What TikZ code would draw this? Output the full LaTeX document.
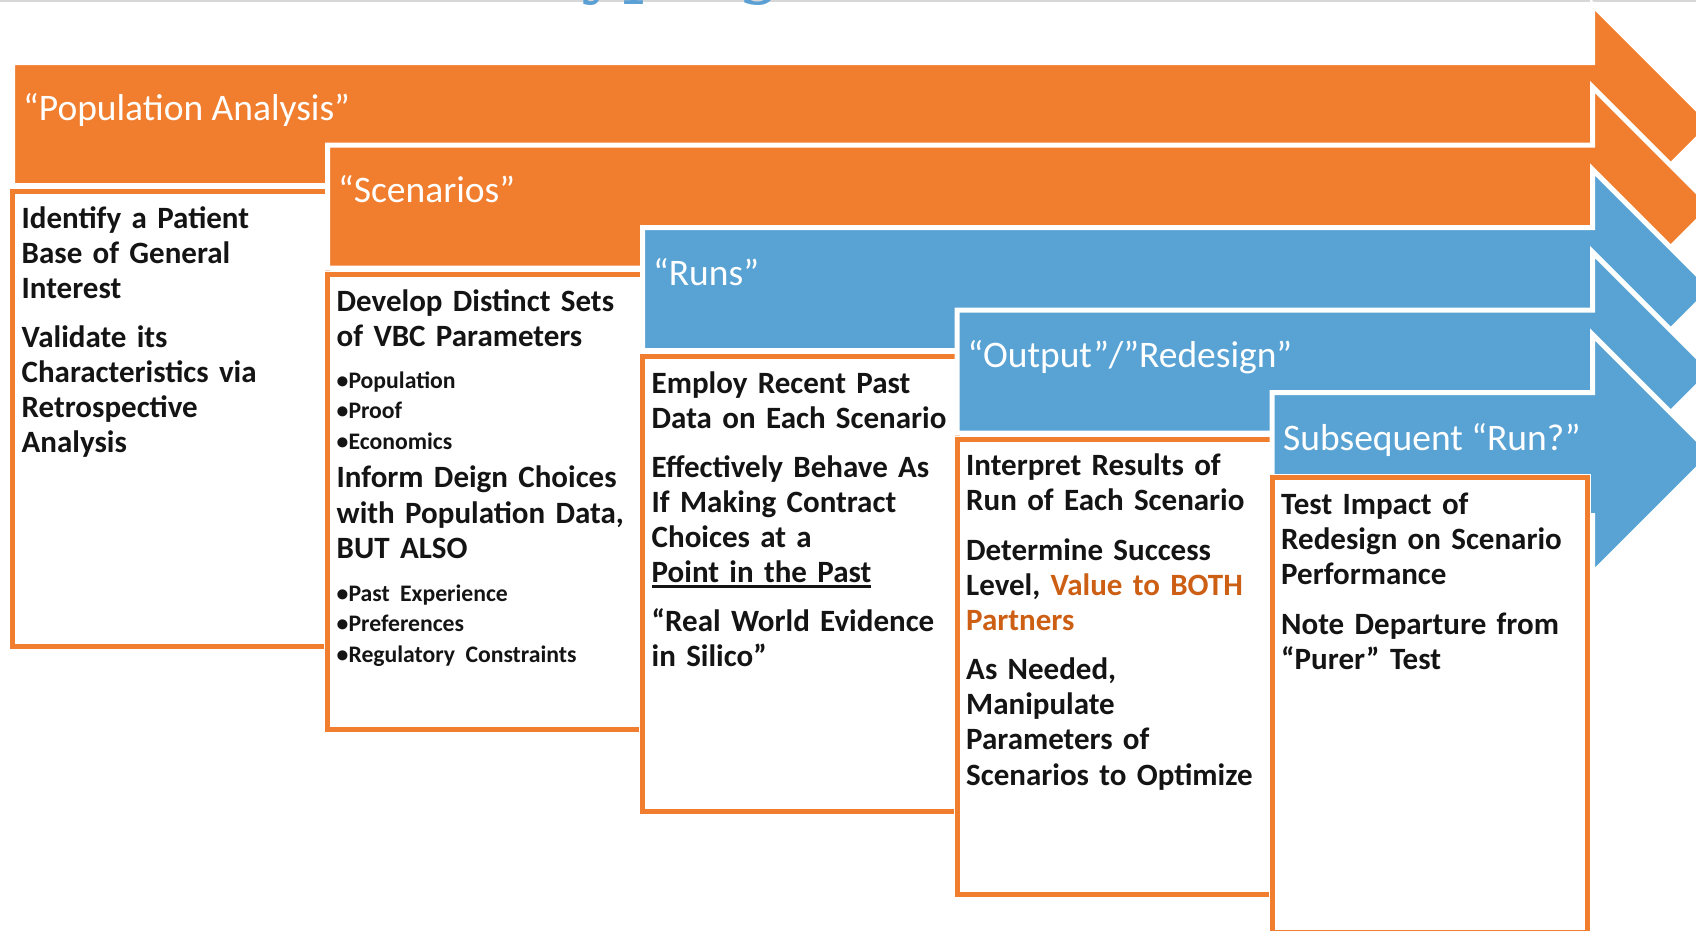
\documentclass[tikz,border=0pt]{standalone}
\usepackage{fontspec}
\setmainfont{Carlito}
\newfontfamily\titleserif{DejaVu Serif}
\definecolor{bandorange}{RGB}{241,125,46}
\definecolor{bandblue}{RGB}{88,163,212}
\definecolor{hiorange}{RGB}{204,95,20}
\definecolor{txtdark}{RGB}{20,20,20}
\definecolor{titleblue}{RGB}{91,160,212}
\definecolor{topgrey}{RGB}{215,215,215}
\newcommand\myul[1]{\leavevmode\setbox0\hbox{#1}\rlap{\rule[-5pt]{\wd0}{2.4pt}}\box0}
\newcommand\bigtxt{\fontsize{31}{35.2}\selectfont}
\newcommand\smalltxt{\fontsize{23.7}{30.8}\selectfont}
\tikzset{
  band/.style={draw=white, line width=5pt, line join=miter},
  boxbg/.style={draw=white, line width=7pt, fill=white},
  boxline/.style={draw=bandorange, line width=5pt},
  bandtext/.style={anchor=base west, inner sep=0pt, text=white, font=\fontsize{37.5}{42}\selectfont},
  boxtext/.style={anchor=base west, inner sep=0pt, text width=330pt, align=left, text=txtdark, font=\bfseries\bigtxt},
}
\begin{document}
\begin{tikzpicture}[x=1pt,y=-1pt]
\useasboundingbox (0,0) rectangle (1696,930);
\begin{scope}
\clip (0,0) rectangle (1696,930);
\fill[topgrey] (0,0) rectangle (1696,2);
\node[anchor=base east, inner sep=0pt, text=titleblue, font=\titleserif\fontsize{72}{80}\selectfont] (title) at (784,-11) {Prototyping};
% band 1
\path[band, fill=bandorange] (12.5,62.5) -- (1592.5,62.5) -- (1592.5,4.5) -- (1712,124) -- (1592.5,243.5) -- (1592.5,185.5) -- (12.5,185.5) -- cycle;
\path[boxbg] (12.5,191.5) rectangle (327.5,646.5);
\path[boxline] (12.5,191.5) rectangle (327.5,646.5);
% band 2
\path[band, fill=bandorange] (327.5,145) -- (1592.5,145) -- (1592.5,87) -- (1712,206.5) -- (1592.5,326) -- (1592.5,268) -- (327.5,268) -- cycle;
\path[boxbg] (327.5,274) rectangle (642.5,729);
\path[boxline] (327.5,274) rectangle (642.5,729);
% band 3
\path[band, fill=bandblue] (642.5,227.5) -- (1592.5,227.5) -- (1592.5,169.5) -- (1712,289) -- (1592.5,408.5) -- (1592.5,350.5) -- (642.5,350.5) -- cycle;
\path[boxbg] (642.5,356.5) rectangle (957,811.5);
\path[boxline] (642.5,356.5) rectangle (957,811.5);
% band 4
\path[band, fill=bandblue] (957,310) -- (1592.5,310) -- (1592.5,252) -- (1712,371.5) -- (1592.5,491) -- (1592.5,433) -- (957,433) -- cycle;
\path[boxbg] (957,439) rectangle (1272,894);
\path[boxline] (957,439) rectangle (1272,894);
% band 5
\path[band, fill=bandblue] (1272,392.5) -- (1592.5,392.5) -- (1592.5,334.5) -- (1712,454) -- (1592.5,573.5) -- (1592.5,515.5) -- (1272,515.5) -- cycle;
\path[boxbg] (1272,477.5) rectangle (1587,932.5);
\path[boxline] (1272,477.5) rectangle (1587,932.5);
\end{scope}
% band titles
\node[bandtext] (t1) at (23,120) {“Population Analysis”};
\node[bandtext] (t2) at (338,202.5) {“Scenarios”};
\node[bandtext] (t3) at (653,285) {“Runs”};
\node[bandtext] (t4) at (967.5,367.5) {“Output”/”Redesign”};
\node[bandtext] (t5) at (1283,450) {Subsequent “Run?”};
% box texts
\node[boxtext] (b1) at (21.5,228) {Identify a Patient\\Base of General\\Interest\par\vspace{13.5pt}
Validate its\\Characteristics via\\Retrospective\\Analysis\par};
\node[boxtext] (b2) at (336.5,311) {Develop Distinct Sets\\of VBC Parameters\par
\vspace{11pt}\smalltxt •Population\\•Proof\\•Economics\par
\vspace{3pt}\bigtxt Inform Deign Choices\\with Population Data,\\BUT ALSO\par
\vspace{12pt}\smalltxt •Past Experience\\•Preferences\\•Regulatory Constraints\par};
\node[boxtext] (b3) at (651.5,393) {Employ Recent Past\\Data on Each Scenario\par\vspace{13.6pt}
Effectively Behave As\\If Making Contract\\Choices at a\\\myul{Point in the Past}\par\vspace{13.6pt}
“Real World Evidence\\in Silico”\par};
\node[boxtext] (b4) at (966,475.5) {Interpret Results of\\Run of Each Scenario\par\vspace{14.4pt}
Determine Success\\Level, {\color{hiorange}Value to BOTH}\\{\color{hiorange}Partners}\par\vspace{13.6pt}
As Needed,\\Manipulate\\Parameters of\\Scenarios to Optimize\par};
\node[boxtext] (b5) at (1281,514) {Test Impact of\\Redesign on Scenario\\Performance\par\vspace{14.4pt}
Note Departure from\\“Purer” Test\par};
\end{tikzpicture}
\end{document}
